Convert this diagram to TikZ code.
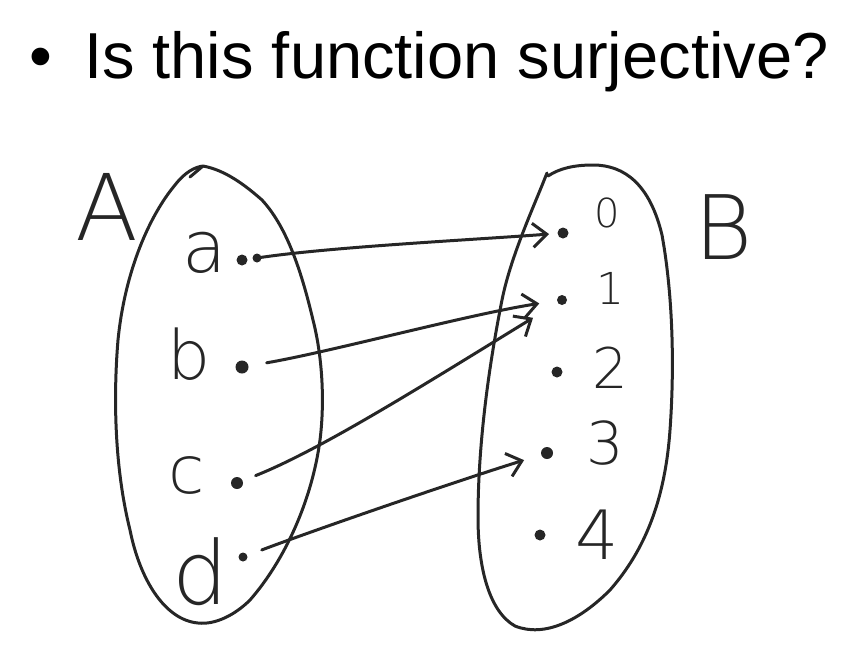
\documentclass[tikz,border=0pt]{standalone}
\usepackage{fontspec}
\setmainfont{Liberation Sans}
\newfontfamily\handfont{DejaVu Sans}[UprightFont=* ExtraLight]
\usetikzlibrary{arrows.meta}
\begin{document}
\begin{tikzpicture}[x=1pt,y=-1pt,
  hand/.style={line width=3pt, line cap=round, line join=round, draw=black!85},
  lbl/.style={inner sep=0pt, text=black!85},
  dotnode/.style={circle, fill=black!85, inner sep=0pt, minimum size=#1},
  dotnode/.default=9pt,
  arr/.style={hand, -{Straight Barb[length=14pt,width=24pt,line width=3pt]}}]
\useasboundingbox (0,0) rectangle (858,670);
% title
\node[lbl, anchor=base, font=\fontsize{65}{78}\selectfont, text=black] (bul) at (41,78) {•};
\node[lbl, anchor=base west, font=\fontsize{65}{78}\selectfont, text=black] (title) at (84,78) {Is this function surjective?};
% set A outline
\draw[hand] (190,177) -- (203,166)
  .. controls (225,170) and (245,185) .. (262,200)
  .. controls (285,225) and (300,265) .. (313,320)
  .. controls (322,355) and (325,400) .. (320,440)
  .. controls (312,500) and (285,560) .. (250,600)
  .. controls (235,615) and (215,625) .. (198,623)
  .. controls (165,620) and (140,580) .. (130,530)
  .. controls (115,470) and (113,400) .. (118,340)
  .. controls (125,270) and (150,215) .. (175,185)
  .. controls (185,172) and (195,167) .. (203,166);
% set B outline
\draw[hand] (547,173) -- (543,183)
  .. controls (530,215) and (510,260) .. (502,300)
  .. controls (490,360) and (478,440) .. (478,517)
  .. controls (478,570) and (490,612) .. (515,626)
  .. controls (545,638) and (580,620) .. (610,590)
  .. controls (645,550) and (665,500) .. (670,430)
  .. controls (675,360) and (672,290) .. (662,235)
  .. controls (650,185) and (625,165) .. (593,165)
  .. controls (575,165) and (560,168) .. (548,176);
% labels
\node[lbl, font=\handfont\fontsize{92}{92}\selectfont] (LA) at (107,207) {A};
\node[lbl, font=\handfont\fontsize{89}{89}\selectfont] (LB) at (724,227) {B};
\node[lbl, font=\handfont\fontsize{72}{72}\selectfont] (la) at (205,253) {a};
\node[lbl, font=\handfont\fontsize{68}{68}\selectfont] (lb) at (189,354) {b};
\node[lbl, font=\handfont\fontsize{66}{66}\selectfont] (lc) at (187,475) {c};
\node[lbl, font=\handfont\fontsize{88}{88}\selectfont] (ld) at (200,572) {d};
\node[lbl, font=\handfont\fontsize{40}{40}\selectfont] (l0) at (607,213) {0};
\node[lbl, font=\handfont\fontsize{44}{44}\selectfont] (l1) at (610,288) {1};
\node[lbl, font=\handfont\fontsize{56}{56}\selectfont] (l2) at (610,368) {2};
\node[lbl, font=\handfont\fontsize{59}{59}\selectfont] (l3) at (605,443) {3};
\node[lbl, font=\handfont\fontsize{68}{68}\selectfont] (l4) at (597,535) {4};
% dots in A
\node[dotnode=11pt] (da0) at (242,260) {};
\node[dotnode=9pt] (da) at (257,258) {};
\node[dotnode=13pt] (db) at (242,367) {};
\node[dotnode=12pt] (dc) at (237,483) {};
\node[dotnode=9pt] (dd) at (243,557) {};
% dots in B
\node[dotnode=11pt] (d0) at (563,233) {};
\node[dotnode=10pt] (d1) at (562,300) {};
\node[dotnode=11pt] (d2) at (557,372) {};
\node[dotnode=12pt] (d3) at (547,453) {};
\node[dotnode=11pt] (d4) at (540,535) {};
% arrows
\draw[arr, shorten <=2pt, shorten >=14pt] (da.center) .. controls (330,247) and (470,240) .. (d0.center);
\draw[arr, shorten <=25pt, shorten >=23pt] (db.center) .. controls (330,352) and (470,314) .. (d1.center);
\draw[arr, shorten <=20pt, shorten >=34pt] (dc.center) .. controls (320,450) and (422,386) .. (d1.center);
\draw[arr, shorten <=20pt, shorten >=24pt] (dd.center) .. controls (320,528) and (460,480) .. (d3.center);
\end{tikzpicture}
\end{document}
